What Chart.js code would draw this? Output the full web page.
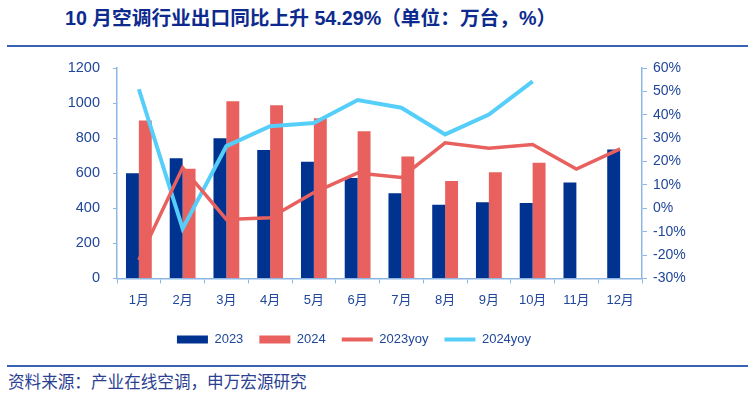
<!DOCTYPE html>
<html>
<head>
<meta charset="utf-8">
<script src="https://cdn.jsdelivr.net/npm/chart.js@4/dist/chart.umd.min.js"></script>
<style>
  html, body { margin: 0; padding: 0; background: #fff; }
  body { width: 756px; height: 397px; position: relative; overflow: hidden;
         font-family: "Liberation Sans", Arial, "Noto Sans CJK SC", sans-serif; }
  #title { position: absolute; left: 65px; top: 5px; font-size: 19.7px; font-weight: bold;
           color: #0d2b8e; white-space: nowrap; line-height: 26px; }
  .rule { position: absolute; left: 7px; width: 741px; height: 2px; background: #3a62b4; }
  #footer { position: absolute; left: 8px; top: 372px; font-size: 16.6px; color: #2c3f92;
            white-space: nowrap; line-height: 22px; }
  #wrap { position: absolute; left: 0; top: 50px; width: 756px; height: 310px; }
</style>
</head>
<body>
<div id="title">10 月空调行业出口同比上升 54.29%（单位：万台，%）</div>
<div class="rule" style="top:45px"></div>
<div id="wrap"><canvas id="mainChart"></canvas></div>
<div class="rule" style="top:365px"></div>
<div id="footer">资料来源：产业在线空调，申万宏源研究</div>
<script>
// months on the x axis
const months = ['1月', '2月', '3月', '4月', '5月', '6月', '7月', '8月', '9月', '10月', '11月', '12月'];

// exports, 10k units (left axis)
const sales2023 = [600, 685, 800, 733, 666, 572, 486, 420, 434, 430, 547, 735];
const sales2024 = [900, 626, 1010, 987, 914, 839, 695, 555, 605, 660, null, null];

// year on year, % (right axis)
const yoy2023 = [-22.1, 17.4, -4.8, -4.1, 6.7, 15.1, 13.2, 28.0, 25.7, 27.3, 16.8, 25.4];
const yoy2024 = [50.9, -8.7, 26.6, 35.1, 36.5, 46.3, 43.0, 31.6, 40.1, 54.29, null, null];

const navy = '#003290';
const coral = '#e8615e';
const cyan = '#55cffa';
const axisColor = '#8db6e3';
const textColor = '#21479a';
const fontFamily = '"Liberation Sans", Arial, "Noto Sans CJK SC", sans-serif';

const ctx = document.getElementById('mainChart');

// fixed axis widths; also stop the big tick padding from pushing the plot down
function fixAxis(width) {
    return function (axis) {
        axis.width = width;
        axis.paddingTop = 10;
        axis.paddingBottom = 10;
    };
}

new Chart(ctx, {
    data: {
        labels: months,
        datasets: [
            { type: 'bar', label: '2023', data: sales2023, backgroundColor: navy, yAxisID: 'y',
              categoryPercentage: 0.59, barPercentage: 1.0 },
            { type: 'bar', label: '2024', data: sales2024, backgroundColor: coral, yAxisID: 'y',
              categoryPercentage: 0.59, barPercentage: 1.0 },
            { type: 'line', label: '2023yoy', data: yoy2023, borderColor: coral, backgroundColor: coral,
              borderWidth: 3.5, pointRadius: 0, tension: 0, yAxisID: 'y1', order: -1 },
            { type: 'line', label: '2024yoy', data: yoy2024, borderColor: cyan, backgroundColor: cyan,
              borderWidth: 4, pointRadius: 0, tension: 0, yAxisID: 'y1', order: -1 }
        ]
    },
    options: {
        responsive: true,
        maintainAspectRatio: false,
        animation: false,
        // right padding pulls the centred legend left, like the original
        layout: { padding: { left: 10, right: 58, top: 18, bottom: 4 } },
        scales: {
            x: {
                grid: { display: true, drawOnChartArea: false, tickLength: 5, color: axisColor, offset: true },
                border: { color: axisColor, width: 1.5 },
                ticks: { color: textColor, font: { size: 13, family: fontFamily }, padding: 9, maxRotation: 0 }
            },
            y: {
                position: 'left',
                min: 0, max: 1200,
                ticks: { stepSize: 200, color: textColor, font: { size: 14.5, family: fontFamily }, padding: 13,
                         callback: v => String(v) },
                grid: { display: true, drawOnChartArea: false, tickLength: 4, color: axisColor },
                border: { color: axisColor, width: 1.5 },
                afterFit: fixAxis(107)
            },
            y1: {
                position: 'right',
                min: -30, max: 60,
                ticks: { stepSize: 10, color: textColor, font: { size: 14, family: fontFamily }, padding: 6,
                         callback: v => v + '%' },
                grid: { display: true, drawOnChartArea: false, tickLength: 5, color: axisColor },
                border: { color: axisColor, width: 1.5 },
                afterFit: fixAxis(56)
            }
        },
        plugins: {
            tooltip: { enabled: false },
            legend: {
                position: 'bottom',
                labels: {
                    color: textColor,
                    font: { size: 13, family: fontFamily },
                    usePointStyle: true,
                    pointStyleWidth: 31,
                    boxHeight: 8,
                    padding: 16,
                    sort: (a, b) => a.datasetIndex - b.datasetIndex,
                    generateLabels(chart) {
                        const items = Chart.defaults.plugins.legend.labels.generateLabels(chart);
                        items.forEach(it => {
                            const ds = chart.data.datasets[it.datasetIndex];
                            if (ds.type === 'bar') {
                                it.pointStyle = 'rect';
                                it.lineWidth = 0;
                            } else {
                                it.pointStyle = 'line';
                                it.lineWidth = 4;
                                it.strokeStyle = ds.borderColor;
                            }
                        });
                        return items;
                    }
                }
            }
        }
    }
});
</script>
</body>
</html>
